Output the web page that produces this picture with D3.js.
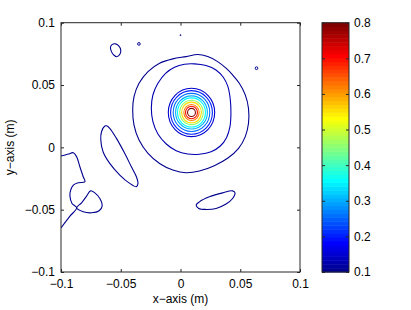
<!DOCTYPE html>
<html>
<head>
<meta charset="utf-8">
<script src="https://cdn.jsdelivr.net/npm/d3@7"></script>
<style>
  body { margin: 0; background: #fff; }
  text { font-family: "Liberation Sans", Arial, Helvetica, sans-serif; }
</style>
</head>
<body>
<svg id="chart"></svg>
<script>
// axis ticks
const xTicks = [-0.1, -0.05, 0, 0.05, 0.1];
const yTicks = [-0.1, -0.05, 0, 0.05, 0.1];
const tickLabels = ["\u22120.1", "\u22120.05", "0", "0.05", "0.1"];
const cbTicks = [0.1, 0.2, 0.3, 0.4, 0.5, 0.6, 0.7, 0.8];

// contour lines, [x, y] in metres
const outerRing = [[0.0144,0.0745],[0.0228,0.0728],[0.0311,0.0688],[0.0381,0.0635],[0.0436,0.0581],[0.0492,0.0514],[0.0542,0.0421],[0.0569,0.0313],[0.0569,0.0193],[0.0542,0.0086],[0.0486,-0.0008],[0.0394,-0.0088],[0.0283,-0.0147],[0.0158,-0.019],[0.0047,-0.0204],[-0.0064,-0.0182],[-0.0175,-0.0129],[-0.0272,-0.0048],[-0.0347,0.0059],[-0.0389,0.0179],[-0.04,0.03],[-0.0389,0.0407],[-0.0347,0.0514],[-0.0272,0.0608],[-0.0175,0.0675],[-0.0064,0.071],[0.0047,0.0728]];
const innerRing = [[0.0117,0.067],[0.0214,0.0656],[0.0297,0.0621],[0.0358,0.0562],[0.0397,0.0487],[0.0417,0.038],[0.0422,0.0273],[0.0414,0.0166],[0.0386,0.008],[0.0333,0.0011],[0.0256,-0.0035],[0.0158,-0.0055],[0.0061,-0.0053],[-0.0036,-0.0027],[-0.0119,0.0027],[-0.0189,0.0107],[-0.0231,0.0206],[-0.0244,0.0313],[-0.0231,0.042],[-0.0189,0.0514],[-0.0125,0.0594],[-0.005,0.0643],[0.0033,0.0667]];
const smallBlob = [[-0.0573,0.0824],[-0.0544,0.083],[-0.0517,0.0814],[-0.05,0.0781],[-0.0506,0.0749],[-0.0533,0.0727],[-0.0556,0.0739],[-0.0578,0.0768],[-0.0586,0.0803]];
const leftBlob = [[-0.0633,0.0171],[-0.0661,0.0125],[-0.0667,0.0059],[-0.0648,-0.0035],[-0.0592,-0.0129],[-0.0508,-0.0222],[-0.0425,-0.0289],[-0.0369,-0.0316],[-0.0356,-0.0289],[-0.0369,-0.0236],[-0.0411,-0.0156],[-0.0467,-0.0048],[-0.0536,0.0072],[-0.0592,0.0153],[-0.0619,0.0173]];
const lowerBlob = [[0.0131,-0.0463],[0.0158,-0.0437],[0.0242,-0.0397],[0.0353,-0.0365],[0.0436,-0.0349],[0.0456,-0.0365],[0.0436,-0.041],[0.0381,-0.0455],[0.0298,-0.049],[0.0214,-0.0498],[0.0153,-0.049]];
const edgeLine = [[-0.1,-0.007],[-0.0939,-0.0054],[-0.0897,-0.0043],[-0.0869,-0.0076],[-0.0842,-0.0156],[-0.0814,-0.0236],[-0.08,-0.0276],[-0.0856,-0.0284],[-0.0897,-0.0303],[-0.0919,-0.0343],[-0.0925,-0.0391],[-0.0908,-0.045],[-0.0869,-0.0485],[-0.0925,-0.0552],[-0.1,-0.0646]];
const edgeLoop = [[-0.0869,-0.0485],[-0.0814,-0.0517],[-0.0744,-0.0525],[-0.0681,-0.0509],[-0.0656,-0.0471],[-0.0675,-0.041],[-0.0717,-0.0365],[-0.0753,-0.0349],[-0.0786,-0.0391],[-0.0828,-0.0445]];

// concentric rings round the peak
const peakCenter = [0.0092, 0.028];
const peakLevels = [0.15, 0.2, 0.25, 0.3, 0.35, 0.45, 0.55, 0.62, 0.7, 0.8];
const peakRadii = [0.0194, 0.0175, 0.0153, 0.0133, 0.0117, 0.0098, 0.0083, 0.0064, 0.005, 0.0033];

// tiny closed loops: [x, y, radius]
const tinyLoops = [[-0.0348, 0.083, 0.0011], [0.0636, 0.0635, 0.0011], [0.0, 0.09, 0.0004]];

const W = 411, H = 310;
const svg = d3.select("#chart").attr("width", W).attr("height", H);
svg.append("rect").attr("width", W).attr("height", H).attr("fill", "#fff");

const x = d3.scaleLinear().domain([-0.1, 0.1]).range([61, 300]);
const y = d3.scaleLinear().domain([-0.1, 0.1]).range([272, 22.7]);
const cb = d3.scaleLinear().domain([0.1, 0.8]).range([272, 22.7]);

// MATLAB jet colormap (64 entries)
function jet(f) {
  const c = (v) => Math.round(255 * Math.max(0, Math.min(1, v)));
  const t = (Math.round(f * 63) + 1) / 64;
  return `rgb(${c(1.5 - Math.abs(4 * t - 3))},${c(1.5 - Math.abs(4 * t - 2))},${c(1.5 - Math.abs(4 * t - 1))})`;
}
const levelColor = (v) => jet((v - 0.1) / 0.7);

svg.append("clipPath").attr("id", "plot-clip")
  .append("rect").attr("x", 61).attr("y", 22.7).attr("width", 239).attr("height", 249.3);

const plot = svg.append("g").attr("clip-path", "url(#plot-clip)");

const closedLine = d3.line().x((d) => x(d[0])).y((d) => y(d[1])).curve(d3.curveCatmullRomClosed);
const openLine = d3.line().x((d) => x(d[0])).y((d) => y(d[1])).curve(d3.curveCatmullRom);

const lowColor = levelColor(0.1);
[outerRing, innerRing, smallBlob, leftBlob, lowerBlob, edgeLoop].forEach((pts, i) => {
  plot.append("path")
    .attr("d", closedLine(pts))
    .attr("fill", "none")
    .attr("stroke", i === 1 ? levelColor(0.12) : lowColor)
    .attr("stroke-width", 1.1);
});
plot.append("path")
  .attr("d", openLine(edgeLine))
  .attr("fill", "none")
  .attr("stroke", lowColor)
  .attr("stroke-width", 1.1);

tinyLoops.forEach((d) => {
  plot.append("ellipse")
    .attr("cx", x(d[0])).attr("cy", y(d[1]))
    .attr("rx", x(d[0] + d[2]) - x(d[0]))
    .attr("ry", y(d[1]) - y(d[1] + d[2]))
    .attr("fill", "none")
    .attr("stroke", lowColor)
    .attr("stroke-width", 1);
});

peakLevels.forEach((lv, i) => {
  plot.append("ellipse")
    .attr("cx", x(peakCenter[0])).attr("cy", y(peakCenter[1]))
    .attr("rx", x(peakCenter[0] + peakRadii[i]) - x(peakCenter[0]))
    .attr("ry", y(peakCenter[1]) - y(peakCenter[1] + peakRadii[i]))
    .attr("fill", "none")
    .attr("stroke", levelColor(lv))
    .attr("stroke-width", 1.1);
});

// axes box with inward ticks on all sides
const axisColor = "#262626";
const fontSize = "12px";
function styleAxis(g) {
  g.select(".domain").remove();
  g.selectAll(".tick line").attr("stroke", axisColor);
  g.selectAll(".tick text").attr("fill", "#000").style("font-size", fontSize);
}
svg.append("g").attr("transform", "translate(0,272)")
  .call(d3.axisBottom(x).tickValues(xTicks).tickFormat((d, i) => tickLabels[i]).tickSizeInner(-3).tickSizeOuter(0).tickPadding(7))
  .call(styleAxis);
svg.append("g").attr("transform", "translate(0,22.7)")
  .call(d3.axisTop(x).tickValues(xTicks).tickFormat("").tickSizeInner(-3).tickSizeOuter(0))
  .call(styleAxis);
svg.append("g").attr("transform", "translate(61,0)")
  .call(d3.axisLeft(y).tickValues(yTicks).tickFormat((d, i) => tickLabels[i]).tickSizeInner(-3).tickSizeOuter(0).tickPadding(6))
  .call(styleAxis);
svg.append("g").attr("transform", "translate(300,0)")
  .call(d3.axisRight(y).tickValues(yTicks).tickFormat("").tickSizeInner(-3).tickSizeOuter(0))
  .call(styleAxis);
svg.append("rect")
  .attr("x", 61).attr("y", 22.7).attr("width", 239).attr("height", 249.3)
  .attr("fill", "none").attr("stroke", axisColor).attr("stroke-width", 1);

svg.append("text")
  .attr("x", (x.range()[0] + x.range()[1]) / 2).attr("y", 303)
  .attr("text-anchor", "middle").style("font-size", fontSize)
  .text("x\u2212axis (m)");
svg.append("text")
  .attr("transform", `translate(14,${(y.range()[0] + y.range()[1]) / 2}) rotate(-90)`)
  .attr("text-anchor", "middle").style("font-size", fontSize)
  .text("y\u2212axis (m)");

// colorbar
const cbX = 322, cbW = 27, nColors = 64;
const bandStep = 0.7 / nColors;
svg.append("g").selectAll("rect")
  .data(d3.range(nColors))
  .join("rect")
  .attr("x", cbX).attr("width", cbW)
  .attr("y", (i) => cb(0.1 + (i + 1) * bandStep))
  .attr("height", (i) => cb(0.1 + i * bandStep) - cb(0.1 + (i + 1) * bandStep) + 0.5)
  .attr("fill", (i) => jet(i / (nColors - 1)));
svg.append("g").attr("transform", `translate(${cbX + cbW},0)`)
  .call(d3.axisRight(cb).tickValues(cbTicks).tickFormat(d3.format(".1f")).tickSizeInner(-3).tickSizeOuter(0).tickPadding(5))
  .call(styleAxis);
svg.append("g").attr("transform", `translate(${cbX},0)`)
  .call(d3.axisLeft(cb).tickValues(cbTicks).tickFormat("").tickSizeInner(-3).tickSizeOuter(0))
  .call(styleAxis);
svg.append("rect")
  .attr("x", cbX).attr("y", 22.7).attr("width", cbW).attr("height", 249.3)
  .attr("fill", "none").attr("stroke", axisColor).attr("stroke-width", 1);
</script>
</body>
</html>
